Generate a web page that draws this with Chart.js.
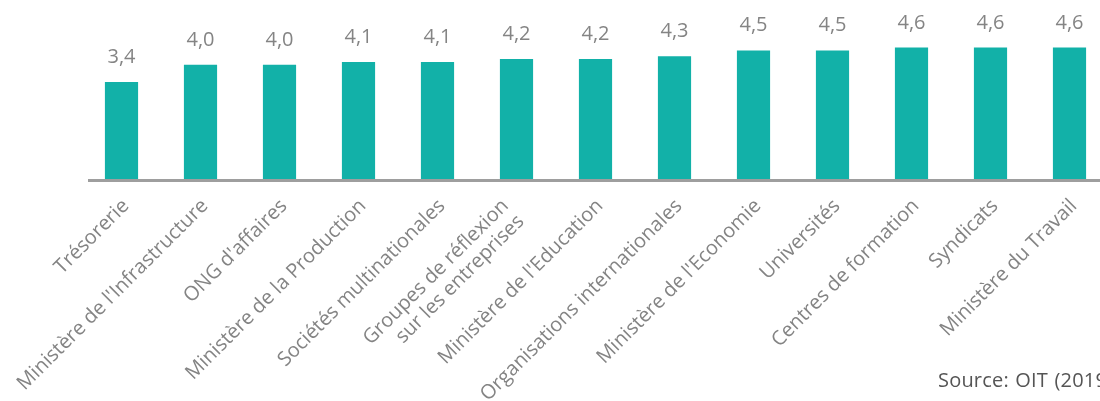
<!DOCTYPE html>
<html>
<head>
<meta charset="utf-8">
<script src="https://cdn.jsdelivr.net/npm/chart.js@4/dist/chart.umd.min.js"></script>
<style>
  html, body { margin: 0; padding: 0; background: #fff; overflow: hidden; }
  #wrap { position: relative; width: 1100px; height: 401px; overflow: hidden; }
  #chart { position: absolute; left: 0; top: 0; }
  #source {
    position: absolute; left: 938px; top: 370px;
    font-family: "Open Sans", sans-serif; font-size: 20px; line-height: 1;
    letter-spacing: 0.2px; word-spacing: 1px; color: #555;
    white-space: nowrap;
  }
</style>
</head>
<body>
<div id="wrap">
  <canvas id="chart" width="1120" height="401"></canvas>
  <div id="source">Source: OIT (2019)</div>
</div>
<script>
// === Data ===
const categories = [
  'Trésorerie',
  "Ministère de l'Infrastructure",
  "ONG d'affaires",
  'Ministère de la Production',
  'Sociétés multinationales',
  ['Groupes de réflexion', 'sur les entreprises'],
  "Ministère de l'Education",
  'Organisations internationales',
  "Ministère de l'Economie",
  'Universités',
  'Centres de formation',
  'Syndicats',
  'Ministère du Travail'
];
const scores = [3.4, 4.0, 4.0, 4.1, 4.1, 4.2, 4.2, 4.3, 4.5, 4.5, 4.6, 4.6, 4.6];

const barColor = '#12b1a8';
const labelGrey = '#848484';

// value labels above each bar, french decimal comma
const valueLabels = {
  id: 'valueLabels',
  afterDatasetsDraw(chart) {
    const ctx = chart.ctx;
    const meta = chart.getDatasetMeta(0);
    ctx.save();
    ctx.font = '20px "Open Sans", sans-serif';
    ctx.fillStyle = labelGrey;
    ctx.textAlign = 'center';
    ctx.textBaseline = 'alphabetic';
    meta.data.forEach((bar, i) => {
      const txt = scores[i].toFixed(1).replace('.', ',');
      ctx.fillText(txt, bar.x, bar.y - 19);
    });
    ctx.restore();
  }
};

// axis line + rotated category labels (multi-line blocks centred on the tick)
const categoryLabels = {
  id: 'categoryLabels',
  afterDraw(chart) {
    const ctx = chart.ctx;
    const xs = chart.scales.x;
    const lh = 22;
    ctx.save();
    ctx.strokeStyle = '#9e9e9e';
    ctx.lineWidth = 3;
    ctx.beginPath();
    ctx.moveTo(xs.left + 6, xs.top + 0.5);
    ctx.lineTo(xs.right, xs.top + 0.5);
    ctx.stroke();

    ctx.font = '20px "Open Sans", sans-serif';
    ctx.fillStyle = labelGrey;
    ctx.textAlign = 'right';
    ctx.textBaseline = 'alphabetic';
    categories.forEach((label, i) => {
      const lines = Array.isArray(label) ? label : [label];
      const n = lines.length;
      ctx.save();
      ctx.translate(xs.getPixelForTick(i) + 4.5, xs.top + 23);
      ctx.rotate(-Math.PI / 4);
      lines.forEach((line, j) => {
        ctx.fillText(line, -(n - 1) * lh / 2, 5.5 + (j - (n - 1) / 2) * lh);
      });
      ctx.restore();
    });
    ctx.restore();
  }
};

new Chart(document.getElementById('chart'), {
  type: 'bar',
  data: {
    labels: categories,
    datasets: [{
      data: scores,
      backgroundColor: barColor,
      categoryPercentage: 1,
      barPercentage: 0.42
    }]
  },
  options: {
    responsive: false,
    animation: false,
    layout: { padding: { left: 82, right: 11, top: 36, bottom: 0 } },
    plugins: {
      legend: { display: false },
      tooltip: { enabled: false }
    },
    scales: {
      x: {
        grid: { display: false, drawTicks: false },
        border: { display: false },
        ticks: { display: false },
        afterFit(scale) { scale.height = 221; }
      },
      y: {
        display: false,
        min: 0,
        max: 5
      }
    }
  },
  plugins: [valueLabels, categoryLabels]
});
</script>
</body>
</html>
